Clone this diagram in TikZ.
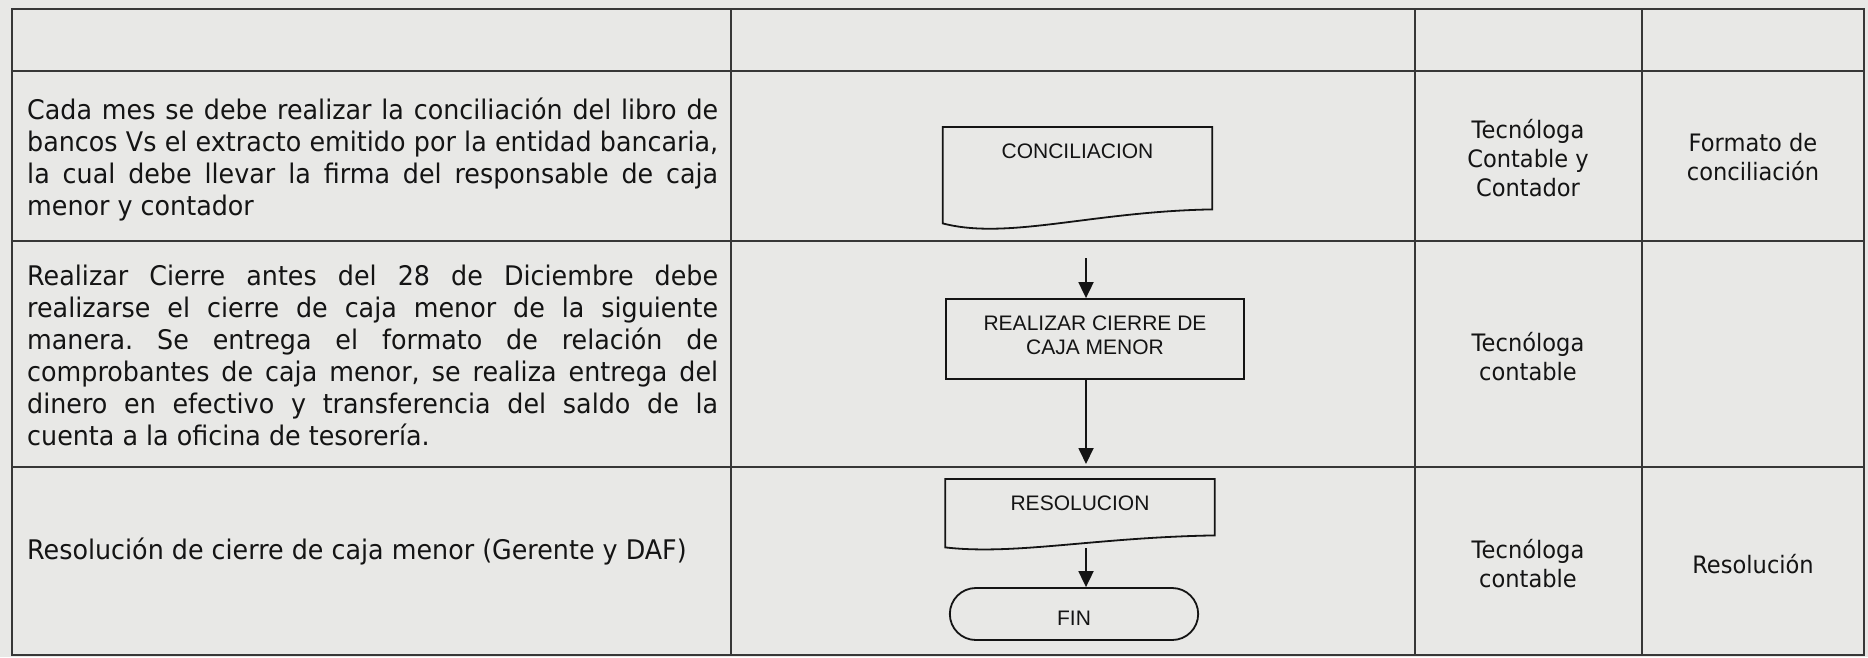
\documentclass[tikz,border=0pt]{standalone}
\usepackage{fontspec}
\newfontfamily\tablafont[FakeStretch=0.94]{DejaVu Sans}
\newfontfamily\flujofont{Liberation Sans}
\usepackage{tikz}
\usetikzlibrary{shapes,arrows.meta,positioning}

\definecolor{papel}{RGB}{232,232,230}
\definecolor{tinta}{RGB}{20,20,20}
\definecolor{reja}{RGB}{55,55,55}
\tolerance=9999
\hbadness=10000
\frenchspacing

\begin{document}
\begin{tikzpicture}[x=1pt, y=-1pt,
    celda/.style={font=\tablafont\fontsize{27}{32}\selectfont, text=tinta, inner sep=0pt},
    parrafo/.style={celda, anchor=north west, text width=691pt, align=justify},
    cargo/.style={celda, font=\tablafont\fontsize{24}{29}\selectfont, align=center},
    paso/.style={draw=tinta, line width=1.8pt, font=\flujofont\fontsize{21}{24}\selectfont, text=tinta},
    proceso/.style={paso, rectangle, minimum width=298pt, minimum height=80pt, align=center, text depth=7pt},
    documento/.style={font=\flujofont\fontsize{21}{24}\selectfont, text=tinta, inner sep=0pt, minimum width=269pt, anchor=north, text height=31pt, text depth=#1},
    terminal/.style={paso, rounded rectangle, minimum width=255pt, minimum height=52pt, text height=23pt},
    flecha/.style={-{Triangle[length=16pt,width=15pt]}, line width=1.8pt, draw=tinta},
    linea/.style={draw=reja, line width=2.6pt}
]
    \fill[papel] (0,0) rectangle (1868,657);
    \useasboundingbox (0,0) rectangle (1868,657);

    % tabla
    \draw[linea] (12,9) rectangle (1864,655);
    \draw[linea] (12,71) -- (1864,71);
    \draw[linea] (12,241) -- (1864,241);
    \draw[linea] (12,467) -- (1864,467);
    \draw[linea] (731,9) -- (731,655);
    \draw[linea] (1415,9) -- (1415,655);
    \draw[linea] (1642,9) -- (1642,655);

    % actividades
    \node[parrafo] (texto1) at (27,98) {Cada mes se debe realizar la conciliación del libro de\linebreak bancos Vs el extracto emitido por la entidad bancaria,\linebreak la cual debe llevar la firma del responsable de caja\linebreak menor y contador};
    \node[parrafo] (texto2) at (27,265) {Realizar Cierre antes del 28 de Diciembre debe\linebreak realizarse el cierre de caja menor de la siguiente\linebreak manera. Se entrega el formato de relación de\linebreak comprobantes de caja menor, se realiza entrega del\linebreak dinero en efectivo y transferencia del saldo de la\linebreak cuenta a la oficina de tesorería.};
    \node[celda, anchor=base west] (texto3) at (27,559) {Resolución de cierre de caja menor (Gerente y DAF)};

    % responsables y registros
    \node[cargo] (resp1) at (1528,158) {Tecnóloga\\Contable y\\Contador};
    \node[cargo] (reg1) at (1753,157) {Formato de\\conciliación};
    \node[cargo] (resp2) at (1528,357) {Tecnóloga\\contable};
    \node[cargo] (resp3) at (1528,564) {Tecnóloga\\contable};
    \node[cargo] (reg3) at (1753,564) {Resolución};

    % flujo
    \node[documento=51pt] (conc) at (1077.5,127) {CONCILIACION};
    \draw[paso] (conc.north west) -- (conc.north east) -- (conc.south east) .. controls +(-120,2) and +(65,17) .. ([yshift=-14pt]conc.south west) -- cycle;
    \node[proceso] (cierre) at (1095,339) {REALIZAR CIERRE DE\\CAJA MENOR};
    \node[documento=25pt] (resol) at (1080,479) {RESOLUCION};
    \draw[paso] (resol.north west) -- (resol.north east) -- (resol.south east) .. controls +(-120,2) and +(70,8) .. ([yshift=-12pt]resol.south west) -- cycle;
    \node[terminal] (fin) at (1074,614) {FIN};

    \coordinate (ini) at (1086,258);
    \draw[flecha] (ini) -- (ini |- cierre.north);
    \draw[flecha, shorten >=15pt] (ini |- cierre.south) -- (ini |- resol.north);
    \draw[flecha, shorten <=13pt] (ini |- resol.south) -- (ini |- fin.north);
\end{tikzpicture}
\end{document}
